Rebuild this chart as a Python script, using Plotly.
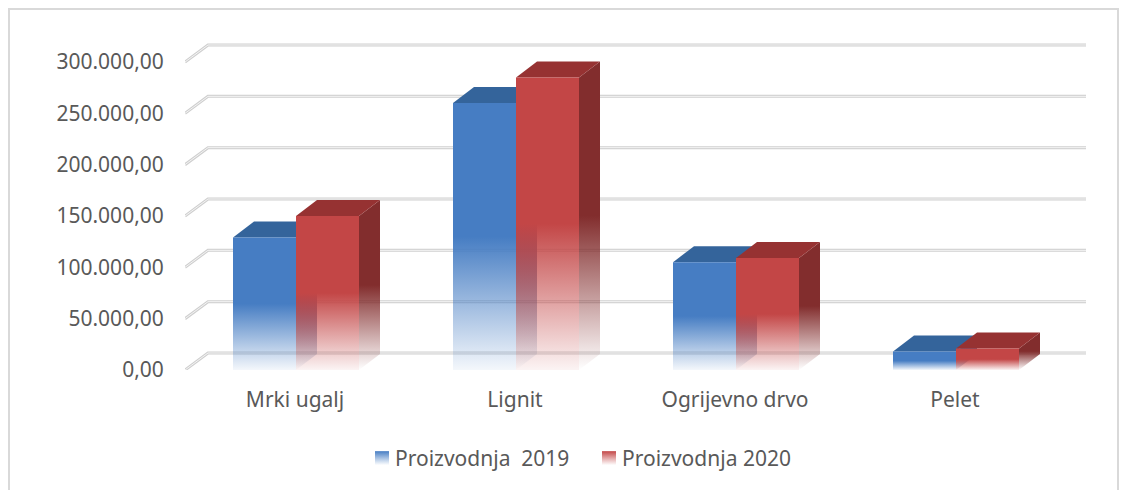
import plotly.graph_objects as go

categories = ["Mrki ugalj", "Lignit", "Ogrijevno drvo", "Pelet"]
series_names = ["Proizvodnja  2019", "Proizvodnja 2020"]
values_2019 = [129000, 260000, 105000, 18000]
values_2020 = [150000, 285000, 109000, 21000]
y_ticks = [0, 50000, 100000, 150000, 200000, 250000, 300000]

W, H = 1135, 490
PLOT_L, PLOT_R, PLOT_T, PLOT_B = 185, 1090, 40, 370
PX_PER_CAT = 220.0
PX_PER_VAL = 308.0 / 300000
BAR_W = 63 / PX_PER_CAT
BAR_SHIFT = 1 / PX_PER_CAT
GRID_DX, GRID_DY = 23 / PX_PER_CAT, 17 / PX_PER_VAL
BAR_DX, BAR_DY = 21 / PX_PER_CAT, 16 / PX_PER_VAL
GRID_END = (1086 - PLOT_L) / PX_PER_CAT

FONT = "Noto Sans"
TXT = "#595959"
STYLE = [
    dict(front=(70, 125, 195), side=(48, 88, 140), top=(52, 100, 155)),
    dict(front=(195, 70, 70), side=(130, 45, 45), top=(150, 50, 50)),
]


def rgba(c, a):
    return f"rgba({c[0]},{c[1]},{c[2]},{a})"


def grad(c, v0, v1, low=0.06):
    return dict(
        type="vertical", start=v0, stop=v1,
        colorscale=[[0, rgba(c, low)], [0.5, rgba(c, 1)], [1, rgba(c, 1)]],
    )


fig = go.Figure()

for v in y_ticks:
    xs = [0, GRID_DX, GRID_END]
    ys = [v, v + GRID_DY, v + GRID_DY]
    for col, w in (("#cfcfcf", 3), ("#f4f4f4", 1)):
        fig.add_trace(go.Scatter(x=xs, y=ys, mode="lines", line=dict(color=col, width=w),
                                 showlegend=False, hoverinfo="skip"))


def face(xs, ys, fill):
    fig.add_trace(go.Scatter(x=xs, y=ys, mode="lines", fill="toself", line=dict(width=0),
                             fillgradient=fill, showlegend=False, hoverinfo="skip"))


for i, cat in enumerate(categories):
    for s, vals in enumerate((values_2019, values_2020)):
        v = vals[i]
        st = STYLE[s]
        x0 = i + 0.5 - BAR_W + s * BAR_W + BAR_SHIFT
        x1 = x0 + BAR_W
        face([x1, x1 + BAR_DX, x1 + BAR_DX, x1, x1], [0, BAR_DY, v + BAR_DY, v, 0],
             grad(st["side"], 0, v + BAR_DY, 0.0))
        face([x0, x1, x1 + BAR_DX, x0 + BAR_DX, x0], [v, v, v + BAR_DY, v + BAR_DY, v],
             dict(type="vertical", start=v, stop=v + BAR_DY,
                  colorscale=[[0, rgba(st["top"], 1)], [1, rgba(st["top"], 1)]]))
        face([x0, x1, x1, x0, x0], [0, 0, v, v, 0], grad(st["front"], 0, v))

for s, name in enumerate(series_names):
    st = STYLE[s]
    fig.add_trace(go.Scatter(
        x=[None], y=[None], mode="markers", name=name,
        marker=dict(symbol="square", size=14, color=rgba(st["front"], 1),
                    gradient=dict(type="vertical", color="rgba(255,255,255,0.9)"),
                    line=dict(width=0)),
    ))

fig.update_layout(
    width=W, height=H,
    margin=dict(l=PLOT_L, r=W - PLOT_R, t=PLOT_T, b=H - PLOT_B, pad=0),
    paper_bgcolor="white", plot_bgcolor="white",
    separators=",.",
    font=dict(family=FONT, size=21, color=TXT),
    xaxis=dict(range=[0, (PLOT_R - PLOT_L) / PX_PER_CAT], tickvals=[i + 0.5 for i in range(4)],
               ticktext=categories, showgrid=False, zeroline=False, showline=False,
               ticks="outside", ticklen=11, tickcolor="rgba(0,0,0,0)"),
    yaxis=dict(range=[0, (PLOT_B - PLOT_T) / PX_PER_VAL], tickvals=y_ticks, tickformat=",.2f",
               showgrid=False, zeroline=False, showline=False,
               ticks="outside", ticklen=16, tickcolor="rgba(0,0,0,0)"),
    legend=dict(orientation="h", xref="container", yref="container",
                x=355 / W, xanchor="left", y=1 - 438 / H, yanchor="top",
                itemwidth=30, entrywidth=182, entrywidthmode="pixels",
                font=dict(size=21, color=TXT)),
    hovermode=False,
    shapes=[dict(type="rect", xref="paper", yref="paper",
                 x0=(9 - PLOT_L) / (PLOT_R - PLOT_L), x1=(1118 - PLOT_L) / (PLOT_R - PLOT_L),
                 y0=(PLOT_B - 500) / (PLOT_B - PLOT_T), y1=(PLOT_B - 9) / (PLOT_B - PLOT_T),
                 line=dict(color="#d9d9d9", width=2), layer="below")],
)

post = (
    "document.body.style.margin='0';document.body.style.overflow='hidden';"
    "document.querySelectorAll('.legend .legendsymbols').forEach(function(n){"
    "n.setAttribute('transform','translate(7,0)');});"
)
fig.write_html("out.html", config={"displayModeBar": False}, post_script=post)
